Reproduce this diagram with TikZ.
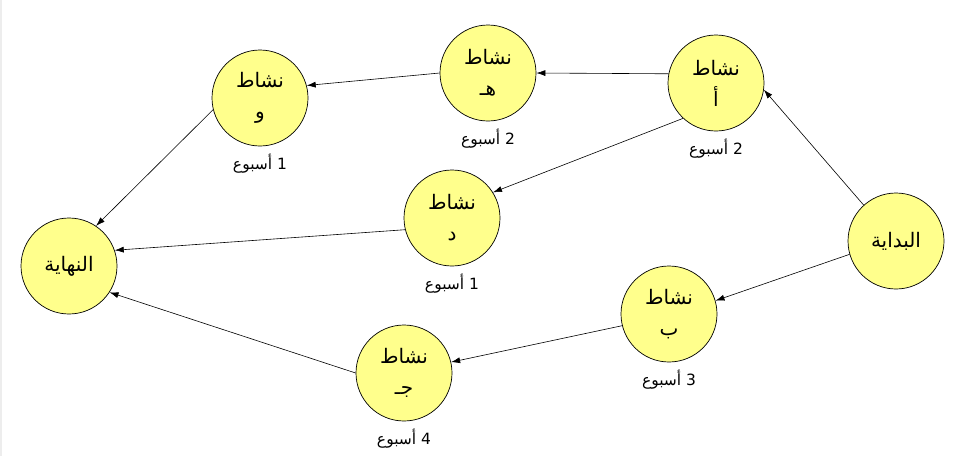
\documentclass[tikz,border=0pt]{standalone}
\usepackage{fontspec}
\newfontfamily\arabicfont[Script=Arabic]{DejaVu Sans}
\TeXXeTstate=1
\usetikzlibrary{arrows.meta}
\definecolor{actfill}{RGB}{255,255,140}
\newcommand\artxt[1]{\beginR #1\endR}

\begin{document}
\begin{tikzpicture}[x=1pt, y=-1pt,
  act/.style = {circle, draw, line width=0.7pt, fill=actfill,
    minimum size=96pt, inner sep=0pt, align=center,
    font=\arabicfont\fontsize{20}{31}\selectfont},
  dur/.style = {label={[font=\arabicfont\fontsize{15.5}{18}\selectfont,
    inner sep=0pt, label distance=7pt]below:\artxt{#1}}},
  arr/.style = {line width=0.6pt, -{Latex[length=9pt,width=6pt]}}
  ]
  \useasboundingbox (0,0) rectangle (957,456);
  \fill[black!7] (0,0) rectangle (2,456);

  \node[act] (fin) at (69,266) {\artxt{النهاية}};
  \node[act, dur=1 أسبوع] (actW) at (260,98) {\artxt{نشاط}\\\artxt{و}};
  \node[act, dur=2 أسبوع] (actH) at (488,73) {\artxt{نشاط}\\\artxt{هـ}};
  \node[act, dur=2 أسبوع] (actA) at (716,83) {\artxt{نشاط}\\\artxt{أ}};
  \node[act, dur=1 أسبوع] (actD) at (452,218) {\artxt{نشاط}\\\artxt{د}};
  \node[act] (start) at (896,241) {\artxt{البداية}};
  \node[act, dur=3 أسبوع] (actB) at (669,314) {\artxt{نشاط}\\\artxt{ب}};
  \node[act, dur=4 أسبوع] (actC) at (404,373) {\artxt{نشاط}\\\artxt{جـ}};

  \draw[arr] (start.132) -- (actA.-8);
  \draw[arr] (start.196) -- (actB.16);
  \draw[arr] (actA.169) -- (actH.0);
  \draw[arr] (actA.227) -- (actD.32);
  \draw[arr] (actH.180) -- (actW.15);
  \draw[arr] (actW.194) -- (fin.56);
  \draw[arr] (actD.194) -- (fin.19);
  \draw[arr] (actB.194) -- (actC.13);
  \draw[arr] (actC.180) -- (fin.-33);
\end{tikzpicture}
\end{document}
